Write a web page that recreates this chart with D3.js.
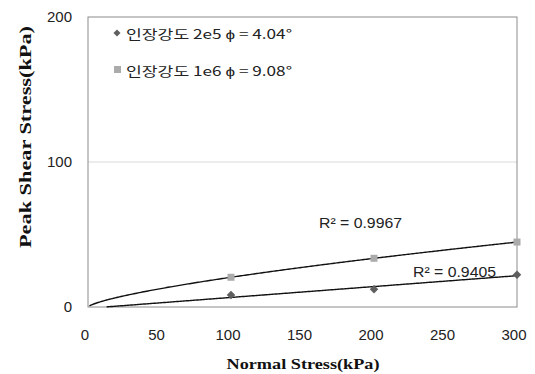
<!DOCTYPE html>
<html>
<head>
<meta charset="utf-8">
<script src="https://cdn.jsdelivr.net/npm/d3@7"></script>
<style>
  body { margin: 0; background: #fff; }
  .num { font-family: "Liberation Sans Narrow", "Liberation Sans", Arial, sans-serif; font-size: 15px; fill: #222; }
  .title { font-family: "Liberation Serif", "Times New Roman", "DejaVu Serif", serif; font-weight: bold; font-size: 15px; fill: #111; }
  .legend { font-family: "Noto Sans CJK KR", sans-serif; font-size: 13px; fill: #222; }
</style>
</head>
<body>
<div id="chart"></div>
<script>
// values
const normalStress = [100, 200, 300];
const shear2e5 = [8.2, 12.3, 22.3];
const shear1e6 = [20.5, 33.6, 44.8];
const seriesNames = ["인장강도 2e5 ϕ = 4.04°", "인장강도 1e6 ϕ = 9.08°"];
const r2Labels = ["R² = 0.9405", "R² = 0.9967"];
const xTicks = [0, 50, 100, 150, 200, 250, 300];
const yTicks = [0, 100, 200];
// trendline coefficients (estimated from the drawn curves)
const trend2e5 = [-0.9, 0.075];   // a + b*x
const trend1e6 = [0.776, 0.711];  // a * x^b

const width = 535, height = 374;
const marginLeft = 88, marginRight = 18, marginTop = 17, marginBottom = 67;

const svg = d3.select("#chart").append("svg")
  .attr("width", width)
  .attr("height", height);

const x = d3.scaleLinear().domain([0, 300]).range([marginLeft, width - marginRight]);
const y = d3.scaleLinear().domain([0, 200]).range([height - marginBottom, marginTop]);

// gridlines
svg.append("g")
  .selectAll("line")
  .data(yTicks.filter(d => d > 0 && d < 200))
  .enter().append("line")
  .attr("x1", x(0)).attr("x2", x(300))
  .attr("y1", d => y(d)).attr("y2", d => y(d))
  .attr("stroke", "#d9d9d9")
  .attr("stroke-width", 1);

// plot frame
svg.append("rect")
  .attr("x", x(0)).attr("y", y(200))
  .attr("width", x(300) - x(0))
  .attr("height", y(0) - y(200))
  .attr("fill", "none")
  .attr("stroke", "#8c8c8c")
  .attr("stroke-width", 1);

// tick labels
svg.append("g")
  .selectAll("text")
  .data(xTicks)
  .enter().append("text")
  .attr("class", "num")
  .attr("x", d => x(d) - 3)
  .attr("y", 340)
  .attr("text-anchor", "middle")
  .text(d => d);

svg.append("g")
  .selectAll("text")
  .data(yTicks)
  .enter().append("text")
  .attr("class", "num")
  .attr("x", 72)
  .attr("y", d => y(d) + 5)
  .attr("text-anchor", "end")
  .text(d => d);

// axis titles
svg.append("text")
  .attr("class", "title")
  .attr("x", 303)
  .attr("y", 369)
  .attr("text-anchor", "middle")
  .attr("textLength", 153)
  .attr("lengthAdjust", "spacingAndGlyphs")
  .text("Normal Stress(kPa)");

svg.append("text")
  .attr("class", "title")
  .attr("transform", "translate(31,137) rotate(-90)")
  .attr("text-anchor", "middle")
  .attr("textLength", 222)
  .attr("lengthAdjust", "spacingAndGlyphs")
  .style("font-size", "16px")
  .text("Peak Shear Stress(kPa)");

// trendlines
const xs = d3.range(0, 300.01, 1);
const line = d3.line().x(d => x(d[0])).y(d => y(d[1]));

const lower = xs.map(v => [v, trend2e5[0] + trend2e5[1] * v]).filter(d => d[1] >= 0);
const upper = xs.filter(v => v >= 1).map(v => [v, trend1e6[0] * Math.pow(v, trend1e6[1])]);

svg.append("path")
  .datum(upper)
  .attr("fill", "none")
  .attr("stroke", "#111")
  .attr("stroke-width", 1.4)
  .attr("d", line);

svg.append("path")
  .datum(lower)
  .attr("fill", "none")
  .attr("stroke", "#111")
  .attr("stroke-width", 1.4)
  .attr("d", line);

// markers
svg.append("g")
  .selectAll("rect")
  .data(normalStress)
  .enter().append("rect")
  .attr("x", -3).attr("y", -3)
  .attr("width", 6).attr("height", 6)
  .attr("transform", (d, i) => `translate(${x(d)},${y(shear2e5[i])}) rotate(45)`)
  .attr("fill", "#5f5f5f");

svg.append("g")
  .selectAll("rect")
  .data(normalStress)
  .enter().append("rect")
  .attr("x", d => x(d) - 3.5)
  .attr("y", (d, i) => y(shear1e6[i]) - 3.5)
  .attr("width", 7).attr("height", 7)
  .attr("fill", "#ababab");

// R² labels
svg.append("text")
  .attr("class", "num")
  .attr("x", 319).attr("y", 228)
  .attr("textLength", 83)
  .attr("lengthAdjust", "spacingAndGlyphs")
  .text(r2Labels[1]);

svg.append("text")
  .attr("class", "num")
  .attr("x", 413).attr("y", 277)
  .attr("textLength", 83)
  .attr("lengthAdjust", "spacingAndGlyphs")
  .text(r2Labels[0]);

// legend
const legend = svg.append("g");
legend.append("rect")
  .attr("x", -2.5).attr("y", -2.5)
  .attr("width", 5).attr("height", 5)
  .attr("transform", "translate(117,33) rotate(45)")
  .attr("fill", "#5f5f5f");
legend.append("text")
  .attr("class", "legend")
  .attr("x", 126).attr("y", 39)
  .attr("textLength", 166)
  .attr("lengthAdjust", "spacingAndGlyphs")
  .text(seriesNames[0]);

legend.append("rect")
  .attr("x", 114).attr("y", 66)
  .attr("width", 7).attr("height", 7)
  .attr("fill", "#ababab");
legend.append("text")
  .attr("class", "legend")
  .attr("x", 126).attr("y", 76)
  .attr("textLength", 166)
  .attr("lengthAdjust", "spacingAndGlyphs")
  .text(seriesNames[1]);
</script>
</body>
</html>
